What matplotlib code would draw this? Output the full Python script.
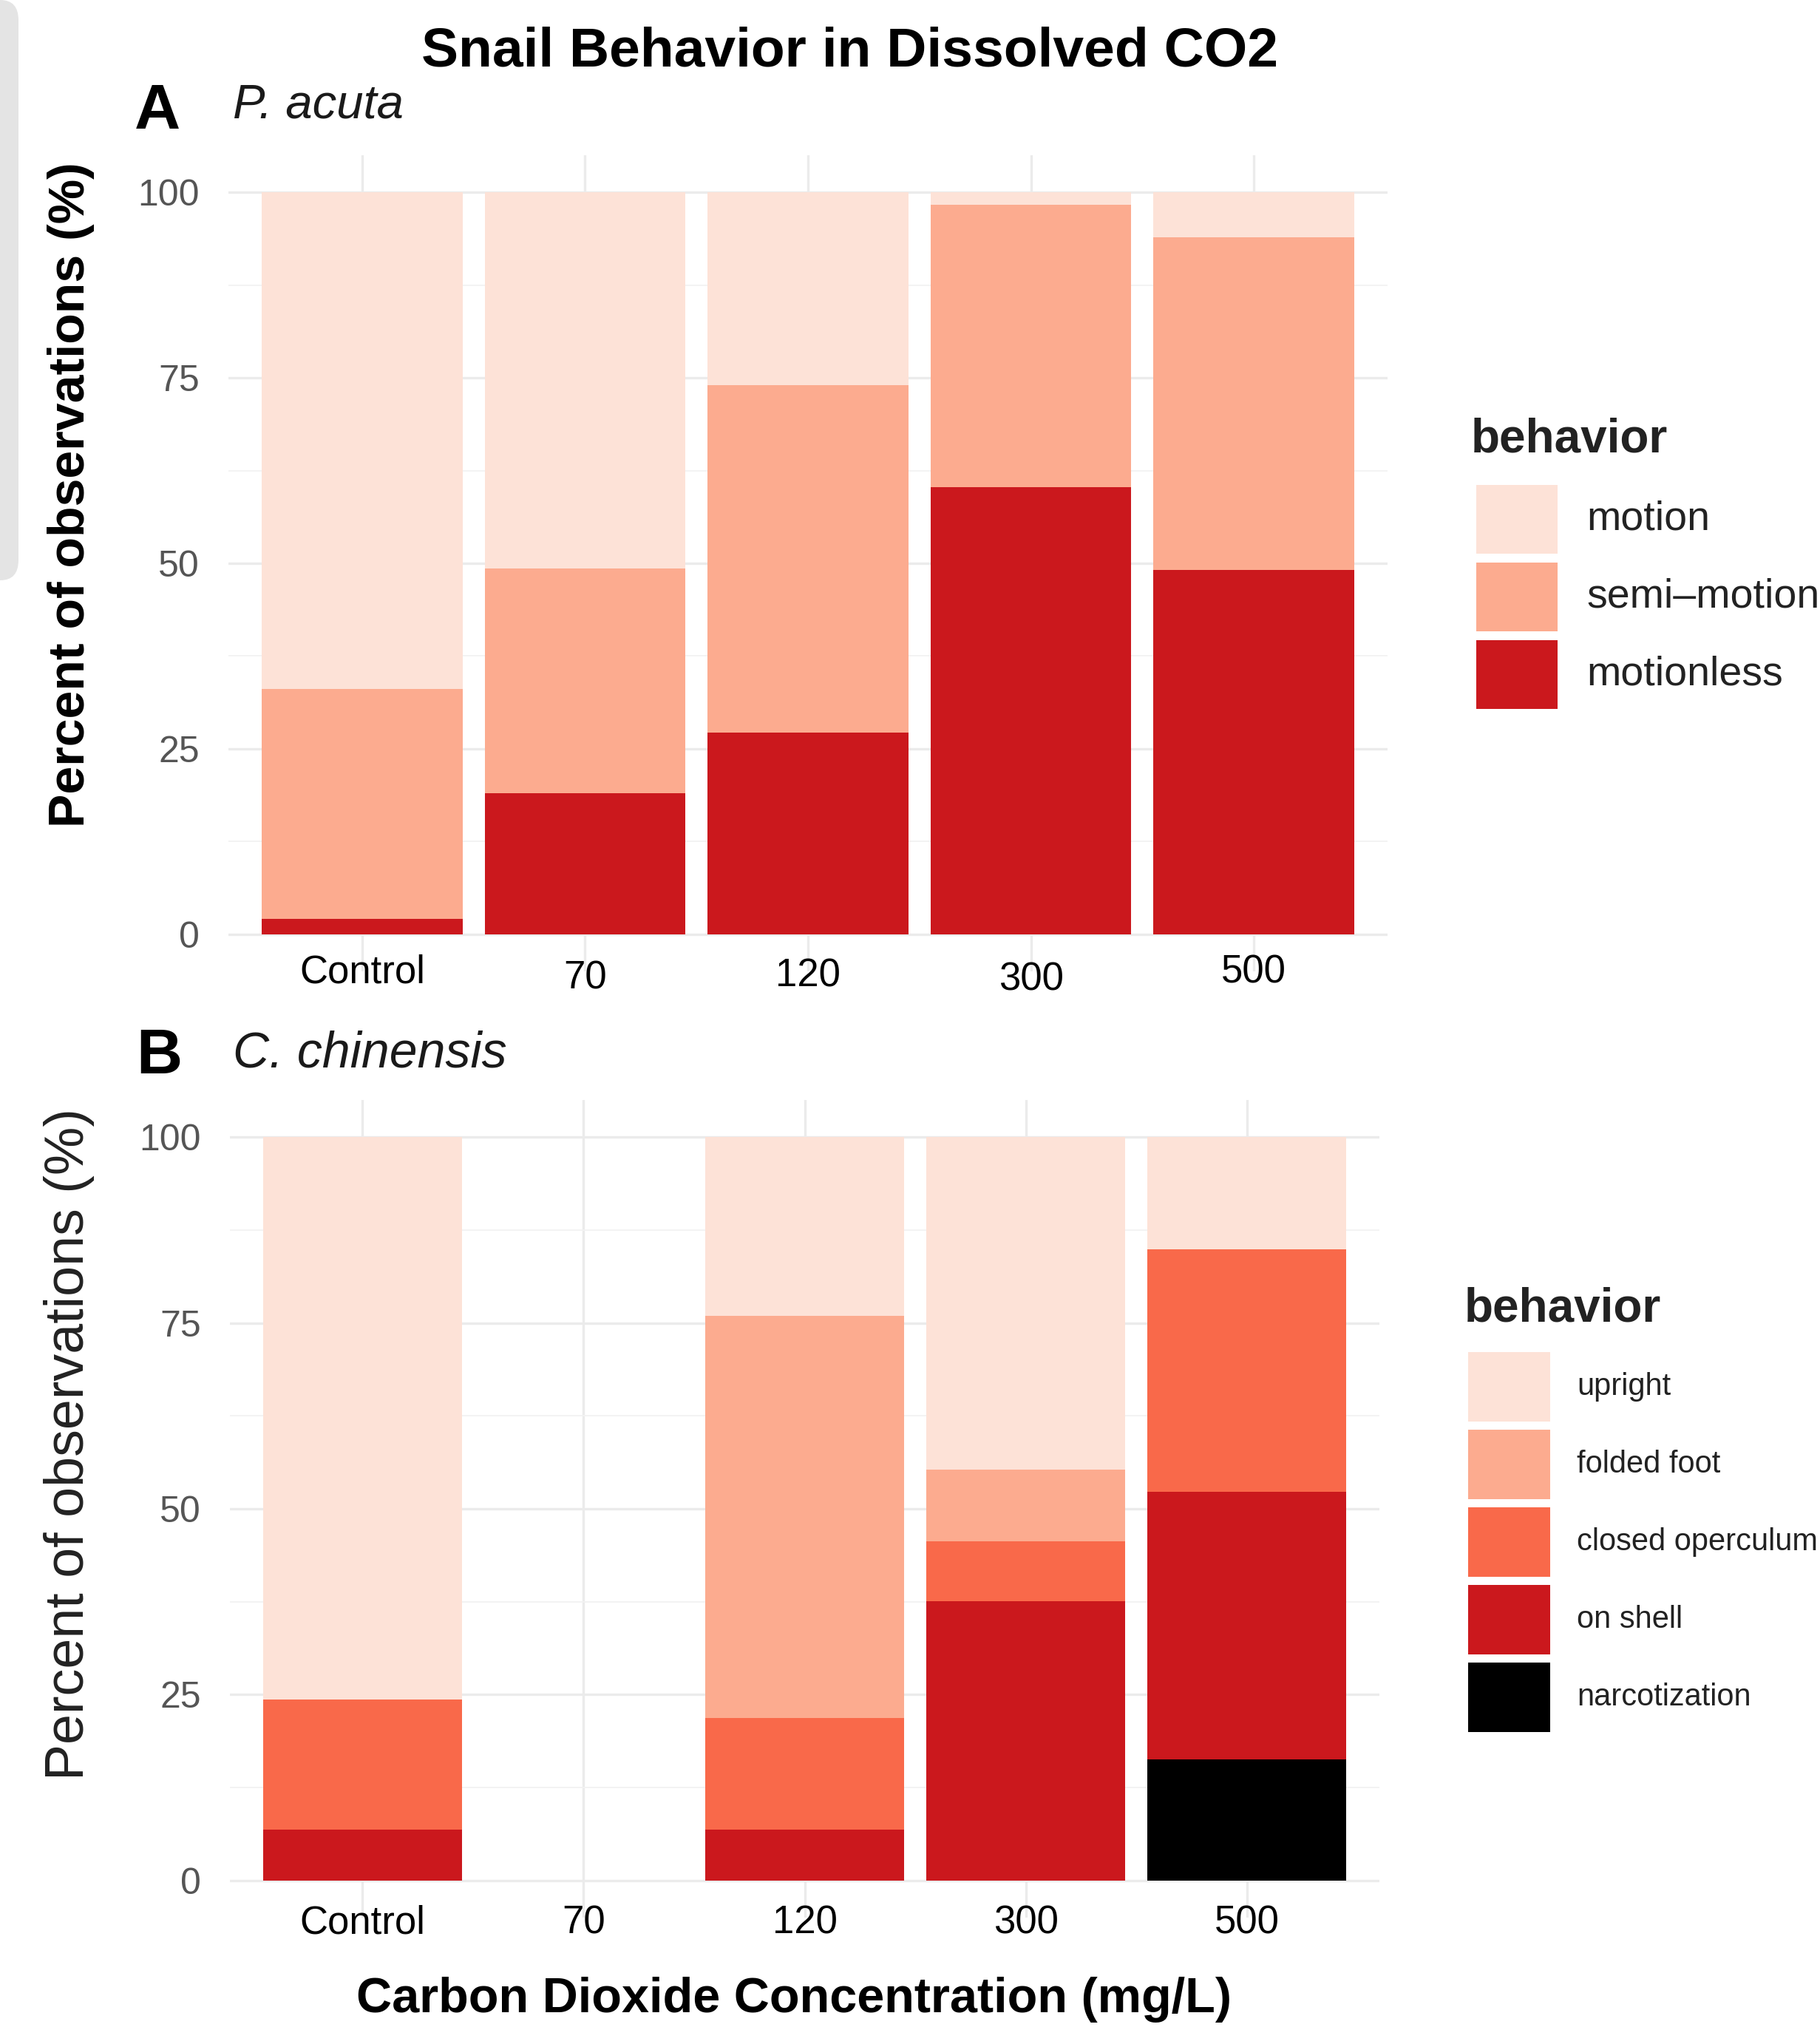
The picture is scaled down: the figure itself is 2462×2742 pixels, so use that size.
import numpy as np
import matplotlib.pyplot as plt
from matplotlib.patches import Rectangle, FancyBboxPatch
from matplotlib.transforms import blended_transform_factory

plt.rcParams['font.family'] = ['Liberation Sans', 'DejaVu Sans']

# Panel A: P. acuta (percent of observations, stacked bottom -> top)
concentrations = ['Control', '70', '120', '300', '500']
pa_behaviors = ['motionless', 'semi\u2013motion', 'motion']
pa_motionless = [2.1, 19.0, 27.2, 60.3, 49.1]
pa_semi_motion = [31.0, 30.3, 46.8, 38.0, 44.8]
pa_motion = [66.9, 50.7, 26.0, 1.7, 6.1]
pa_colors = ['#cb181d', '#fcab8f', '#fde2d7']

# Panel B: C. chinensis (stacked bottom -> top)
cc_behaviors = ['narcotization', 'on shell', 'closed operculum', 'folded foot', 'upright']
cc_narcotization = [0, 0, 0, 0, 16.3]
cc_on_shell = [6.8, 0, 6.8, 37.6, 36.0]
cc_closed_operculum = [17.5, 0, 15.1, 8.0, 32.6]
cc_folded_foot = [0, 0, 54.1, 9.7, 0]
cc_upright = [75.7, 0, 24.0, 44.7, 15.1]
cc_colors = ['#000000', '#cb181d', '#f9694a', '#fcab8f', '#fde2d7']

yticks = [0, 25, 50, 75, 100]

W, H = 2462, 2742
fig = plt.figure(figsize=(W / 100, H / 100), dpi=100)
fig.patch.set_facecolor('white')


def fx(px):
    return px / W


def fy(py):
    return 1 - py / H


def style_axes(ax):
    ax.set_xlim(-0.6, 4.6)
    ax.set_ylim(-5, 105)
    ax.set_yticks(yticks)
    ax.set_yticks([12.5, 37.5, 62.5, 87.5], minor=True)
    ax.set_yticklabels([str(t) for t in yticks], fontsize=36, color='#555555')
    ax.set_xticks(range(len(concentrations)))
    ax.set_xticklabels([])
    ax.tick_params(axis='both', which='both', length=0)
    ax.tick_params(axis='y', pad=28)
    for s in ax.spines.values():
        s.set_visible(False)
    ax.set_axisbelow(True)
    ax.grid(which='major', color='#ebebeb', linewidth=2.4)
    ax.grid(which='minor', axis='y', color='#f2f2f2', linewidth=1.3)


def stacked(ax, series, colors):
    x = np.arange(len(concentrations))
    bottom = np.zeros(len(concentrations))
    for vals, c in zip(series, colors):
        ax.bar(x, vals, bottom=bottom, width=0.9, color=c, linewidth=0)
        bottom += np.array(vals)


# panel A
axA = fig.add_axes([fx(309), fy(1314), fx(1877 - 309), (1314 - 210) / H])
style_axes(axA)
stacked(axA, [pa_motionless, pa_semi_motion, pa_motion], pa_colors)
trA = blended_transform_factory(axA.transData, fig.transFigure)
label_dy_a = [0, 9, 5, 10, 0]
for i, lab in enumerate(concentrations):
    axA.text(i, fy(1315 + label_dy_a[i]), lab, transform=trA, ha='center',
             va='center', fontsize=38, color='black')

# panel B
axB = fig.add_axes([fx(311), fy(2594), fx(1866 - 311), (2594 - 1488) / H])
style_axes(axB)
stacked(axB, [cc_narcotization, cc_on_shell, cc_closed_operculum,
              cc_folded_foot, cc_upright], cc_colors)
trB = blended_transform_factory(axB.transData, fig.transFigure)
for i, lab in enumerate(concentrations):
    axB.text(i, fy(2602), lab, transform=trB, ha='center', va='center',
             fontsize=38, color='black')

# titles and labels
fig.text(fx(1150), fy(70), 'Snail Behavior in Dissolved CO2', ha='center',
         va='center', fontsize=54, fontweight='bold')
fig.text(fx(1074), fy(2705), 'Carbon Dioxide Concentration (mg/L)',
         ha='center', va='center', fontsize=48, fontweight='bold')
fig.text(fx(96), fy(669), 'Percent of observations (%)', rotation=90,
         ha='center', va='center', fontsize=49, fontweight='bold')
fig.text(fx(94), fy(1953), 'Percent of observations (%)', rotation=90,
         ha='center', va='center', fontsize=53, color='#222222')

fig.text(fx(182), fy(152), 'A', ha='left', va='center', fontsize=62,
         fontweight='heavy')
fig.text(fx(315), fy(143), 'P. acuta', ha='left', va='center', fontsize=47,
         style='italic', color='#1a1a1a')
fig.text(fx(184), fy(1430), 'B', ha='left', va='center', fontsize=62,
         fontweight='heavy')
fig.text(fx(315), fy(1425), 'C. chinensis', ha='left', va='center',
         fontsize=49, style='italic', color='#1a1a1a')

# legends (drawn in figure pixels)
def draw_legend(title, tx, ty, labels, colors, kx, ky0, kw, kh, step, lx, fs):
    fig.text(fx(tx), fy(ty), title, ha='left', va='center', fontsize=46,
             fontweight='bold', color='#222222')
    for j, (lab, c) in enumerate(zip(labels, colors)):
        top = ky0 + j * step
        fig.patches.append(Rectangle((fx(kx), fy(top + kh)), kw / W, kh / H,
                                     transform=fig.transFigure, color=c,
                                     linewidth=0))
        fig.text(fx(lx), fy(top + kh / 2), lab, ha='left', va='center',
                 fontsize=fs, color='#222222')


draw_legend('behavior', 1990, 594, pa_behaviors[::-1], pa_colors[::-1],
            1997, 656, 110, 93, 105, 2146, 40)
draw_legend('behavior', 1981, 1770, cc_behaviors[::-1], cc_colors[::-1],
            1986, 1829, 111, 94, 105, 2133, 30)

# grey strip from the screenshot edge
fig.patches.append(FancyBboxPatch((fx(-40), fy(785)), 65 / W, 785 / H,
                                  boxstyle='round,pad=0,rounding_size=0.01',
                                  transform=fig.transFigure,
                                  color='#e4e4e4', linewidth=0))

fig.savefig('out.png', dpi=100)
